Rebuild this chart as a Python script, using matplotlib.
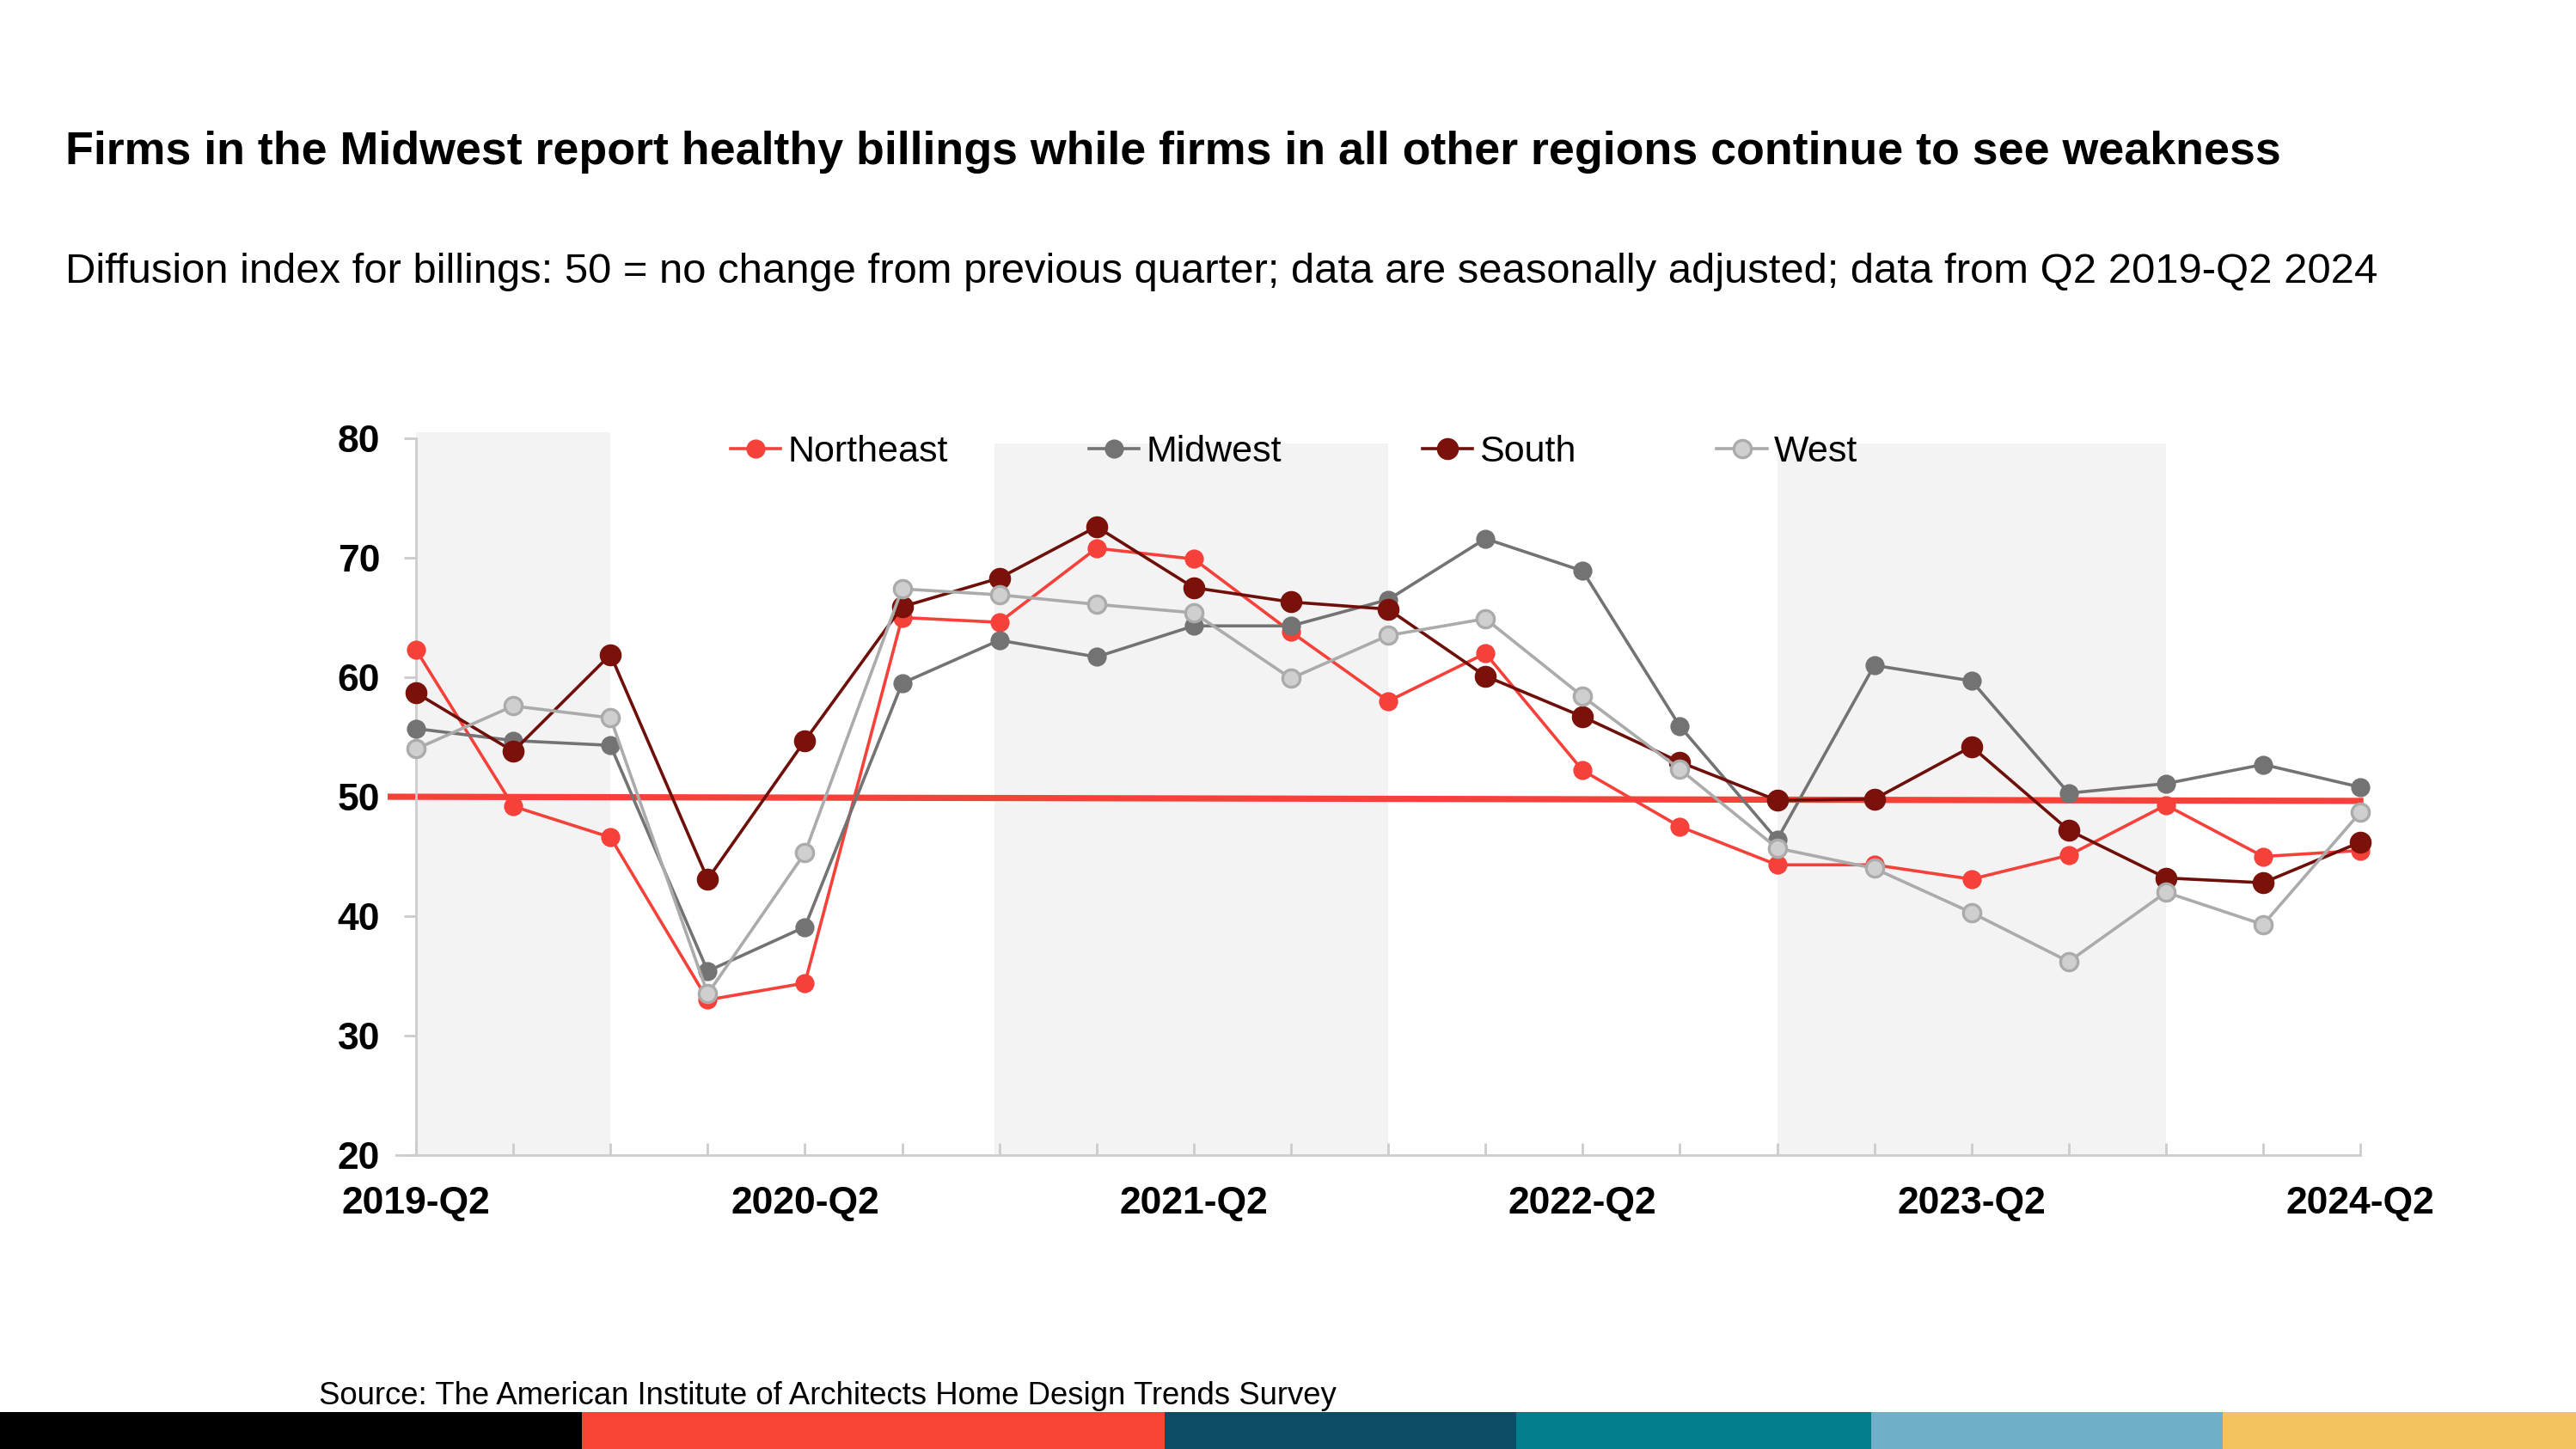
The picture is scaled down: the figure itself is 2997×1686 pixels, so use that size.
import matplotlib
matplotlib.use("Agg")
import matplotlib.pyplot as plt
from matplotlib.patches import Rectangle

plt.rcParams['font.family'] = ['Liberation Sans', 'DejaVu Sans']

# quarters 2019-Q2 .. 2024-Q2
quarters = ['2019-Q2', '2019-Q3', '2019-Q4', '2020-Q1', '2020-Q2', '2020-Q3', '2020-Q4',
            '2021-Q1', '2021-Q2', '2021-Q3', '2021-Q4', '2022-Q1', '2022-Q2', '2022-Q3',
            '2022-Q4', '2023-Q1', '2023-Q2', '2023-Q3', '2023-Q4', '2024-Q1', '2024-Q2']

northeast = [62.3, 49.2, 46.6, 33.0, 34.4, 65.0, 64.6, 70.8, 69.9, 63.8, 58.0,
             62.0, 52.2, 47.5, 44.3, 44.3, 43.1, 45.1, 49.3, 45.0, 45.5]
midwest = [55.7, 54.7, 54.3, 35.4, 39.1, 59.5, 63.1, 61.7, 64.3, 64.3, 66.5,
           71.6, 68.9, 55.9, 46.4, 61.0, 59.7, 50.3, 51.1, 52.7, 50.8]
south = [58.7, 53.8, 61.9, 43.1, 54.7, 65.9, 68.3, 72.6, 67.5, 66.3, 65.7,
         60.1, 56.7, 52.9, 49.7, 49.8, 54.2, 47.2, 43.2, 42.8, 46.2]
west = [54.0, 57.6, 56.6, 33.5, 45.3, 67.4, 66.9, 66.1, 65.4, 59.9, 63.5,
        64.9, 58.4, 52.3, 45.7, 44.0, 40.3, 36.2, 42.0, 39.3, 48.7]

# reference "no change" line
ref_x = [-0.26, 20]
ref_y = [50.0, 49.65]

# shaded year bands (quarter index start/end, top value)
band_start = [0, 5.95, 14.0]
band_end = [2, 10, 18]
band_top = [80.5, 79.6, 79.6]

y_ticks = [20, 30, 40, 50, 60, 70, 80]
label_idx = [0, 4, 8, 12, 16, 20]

strip_edges = [0, 677, 1355, 1764, 2177, 2586, 2997]
strip_colors = ['#000000', '#F84434', '#0B4D66', '#027D8B', '#70AFC9', '#F2C45F']

fig = plt.figure(figsize=(14.985, 8.43), dpi=200)
ax = fig.add_axes([0.1615, 0.2028, 0.7548, 0.4947])

x = list(range(len(quarters)))

for s, e, t in zip(band_start, band_end, band_top):
    ax.fill_between([s, e], 20, t, color='#F3F3F3', lw=0, zorder=0, clip_on=False)

ax.plot(ref_x, ref_y, color='#F5413A', lw=2.6, zorder=2, clip_on=False)

ax.plot(x, northeast, color='#F5413A', lw=1.3, marker='o', ms=7,
        mfc='#F5413A', mec='#F5413A', label='Northeast', zorder=3, clip_on=False)
ax.plot(x, midwest, color='#737373', lw=1.3, marker='o', ms=7,
        mfc='#737373', mec='#737373', label='Midwest', zorder=3, clip_on=False)
ax.plot(x, south, color='#6E0F0A', lw=1.3, marker='o', ms=8.2,
        mfc='#7A120B', mec='#7A120B', label='South', zorder=3, clip_on=False)
ax.plot(x, west, color='#ABABAB', lw=1.3, marker='o', ms=7.3,
        mfc='#CFCFCF', mec='#ABABAB', mew=1.2, label='West', zorder=3, clip_on=False)

ax.set_xlim(0, 20)
ax.set_ylim(20, 80)
ax.set_yticks(y_ticks)
ax.set_yticklabels([str(v) for v in y_ticks], fontsize=16, fontweight='bold')
ax.set_xticks(x)
ax.set_xticklabels([q if i in label_idx else '' for i, q in enumerate(quarters)],
                   fontsize=16, fontweight='bold')

for side in ['top', 'right']:
    ax.spines[side].set_visible(False)
for side in ['left', 'bottom']:
    ax.spines[side].set_color('#CCCCCC')
    ax.spines[side].set_linewidth(1.0)
ax.spines['bottom'].set_bounds(-0.2, 20)

ax.tick_params(axis='y', direction='out', length=5, width=1.0, color='#CCCCCC', pad=10)
ax.tick_params(axis='x', direction='in', length=5, width=1.0, color='#CCCCCC', pad=13)
ax.set_facecolor('none')

ax.legend(loc='center left', bbox_to_anchor=(0.2836, 0.6880), bbox_transform=fig.transFigure,
          ncol=4, frameon=False, fontsize=15.5, handlelength=1.35, handletextpad=0.2,
          columnspacing=3.8, borderpad=0, borderaxespad=0)

fig.text(0.0255, 0.887, 'Firms in the Midwest report healthy billings while firms in all other regions continue to see weakness',
         fontsize=19.35, fontweight='bold', ha='left', va='baseline')
fig.text(0.0255, 0.805, 'Diffusion index for billings: 50 = no change from previous quarter; data are seasonally adjusted; data from Q2 2019-Q2 2024',
         fontsize=17.65, ha='left', va='baseline')
fig.text(0.1238, 0.031, 'Source: The American Institute of Architects Home Design Trends Survey',
         fontsize=13.15, ha='left', va='baseline')

W, H = 2997.0, 1686.0
for i, c in enumerate(strip_colors):
    fig.add_artist(Rectangle((strip_edges[i] / W, 0), (strip_edges[i + 1] - strip_edges[i]) / W,
                             43 / H, transform=fig.transFigure, color=c, lw=0))

fig.savefig('out.png', dpi=200)
